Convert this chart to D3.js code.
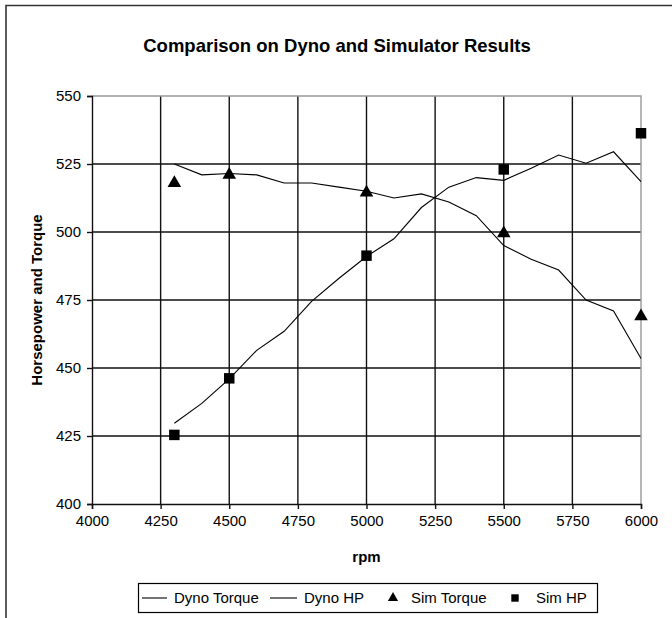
<!DOCTYPE html>
<html>
<head>
<meta charset="utf-8" />
<title>Comparison on Dyno and Simulator Results</title>
<style>
  body { margin: 0; background: #fff; }
  svg { display: block; font-family: "Liberation Sans", Arial, sans-serif; }
</style>
</head>
<body>
<div id="chart"></div>
<script src="https://cdnjs.cloudflare.com/ajax/libs/d3/7.8.5/d3.min.js"></script>
<script>
// dyno curves, every 100 rpm
var dynoRpm    = [4300, 4400, 4500, 4600, 4700, 4800, 4900, 5000, 5100, 5200, 5300, 5400, 5500, 5600, 5700, 5800, 5900, 6000];
var dynoTorque = [525, 521, 521.5, 521, 518, 518, 516.5, 515, 512.5, 514, 511, 506, 495, 490, 486, 475, 471, 453.5];
var dynoHP     = [429.7, 437, 446, 456.5, 463.5, 474.5, 483, 491, 497.5, 509, 516.5, 520, 519, 523.4, 528.3, 525.3, 529.5, 518.5];

// simulator points
var simRpm    = [4300, 4500, 5000, 5500, 6000];
var simTorque = [518, 521, 514.5, 499.5, 469];
var simHP     = [425.4, 446.2, 491.3, 523, 536.3];

var xTicks = [4000, 4250, 4500, 4750, 5000, 5250, 5500, 5750, 6000];
var yTicks = [400, 425, 450, 475, 500, 525, 550];

var legendNames = ["Dyno Torque", "Dyno HP", "Sim Torque", "Sim HP"];

(function () {
    var width = 672, height = 618;
    var pLeft = 92, pRight = 641, pTop = 96, pBottom = 504;

    var svg = d3.select("#chart").append("svg")
        .attr("width", width)
        .attr("height", height);

    // outer frame (only left and top edges visible)
    svg.append("path")
        .attr("d", "M6,618 V5.5 H672")
        .attr("fill", "none")
        .attr("stroke", "#333")
        .attr("stroke-width", 1.6);

    svg.append("text")
        .attr("x", 337)
        .attr("y", 52)
        .attr("text-anchor", "middle")
        .attr("font-size", 18.5)
        .attr("font-weight", "bold")
        .text("Comparison on Dyno and Simulator Results");

    var x = d3.scaleLinear().domain([4000, 6000]).range([pLeft, pRight]);
    var y = d3.scaleLinear().domain([400, 550]).range([pBottom, pTop]);

    // grid
    var g = svg.append("g");
    g.selectAll(".vg").data(xTicks.slice(1, -1)).enter().append("line")
        .attr("x1", function (d) { return x(d); })
        .attr("x2", function (d) { return x(d); })
        .attr("y1", pTop).attr("y2", pBottom)
        .attr("stroke", "#111").attr("stroke-width", 1.4);
    g.selectAll(".hg").data(yTicks.slice(1, -1)).enter().append("line")
        .attr("y1", function (d) { return y(d); })
        .attr("y2", function (d) { return y(d); })
        .attr("x1", pLeft).attr("x2", pRight)
        .attr("stroke", "#111").attr("stroke-width", 1.4);

    // plot border top/right in grey
    g.append("path")
        .attr("d", "M" + pLeft + "," + y(550) + " H" + x(6000) + " V" + pBottom)
        .attr("fill", "none")
        .attr("stroke", "#999")
        .attr("stroke-width", 1.4);

    // axes
    var xAxis = svg.append("g")
        .attr("transform", "translate(0," + pBottom + ")")
        .call(d3.axisBottom(x).tickValues(xTicks).tickSize(5).tickPadding(6).tickFormat(d3.format("d")));
    var yAxis = svg.append("g")
        .attr("transform", "translate(" + pLeft + ",0)")
        .call(d3.axisLeft(y).tickValues(yTicks).tickSize(5).tickPadding(6).tickFormat(d3.format("d")));

    [xAxis, yAxis].forEach(function (a) {
        a.select(".domain").attr("stroke", "#111").attr("stroke-width", 1.4);
        a.selectAll(".tick line").attr("stroke", "#111").attr("stroke-width", 1.4);
        a.selectAll("text").attr("font-size", 15).attr("fill", "#000")
            .attr("font-family", "'Liberation Sans', Arial, sans-serif");
    });

    svg.append("text")
        .attr("x", (pLeft + pRight) / 2)
        .attr("y", 562)
        .attr("text-anchor", "middle")
        .attr("font-size", 15)
        .attr("font-weight", "bold")
        .text("rpm");

    svg.append("text")
        .attr("transform", "translate(42," + ((pTop + pBottom) / 2) + ") rotate(-90)")
        .attr("text-anchor", "middle")
        .attr("font-size", 15)
        .attr("font-weight", "bold")
        .text("Horsepower and Torque");

    // lines
    var line = d3.line()
        .x(function (d) { return x(d[0]); })
        .y(function (d) { return y(d[1]); });

    [dynoTorque, dynoHP].forEach(function (vals) {
        svg.append("path")
            .datum(d3.zip(dynoRpm, vals))
            .attr("d", line)
            .attr("fill", "none")
            .attr("stroke", "#000")
            .attr("stroke-width", 1.1);
    });

    // markers
    var tri = d3.symbol().type(d3.symbolTriangle).size(80);
    var sq = d3.symbol().type(d3.symbolSquare).size(110);

    svg.selectAll(".st").data(d3.zip(simRpm, simTorque)).enter().append("path")
        .attr("d", tri)
        .attr("transform", function (d) { return "translate(" + x(d[0]) + "," + y(d[1]) + ")"; })
        .attr("fill", "#000");

    svg.selectAll(".sh").data(d3.zip(simRpm, simHP)).enter().append("path")
        .attr("d", sq)
        .attr("transform", function (d) { return "translate(" + x(d[0]) + "," + y(d[1]) + ")"; })
        .attr("fill", "#000");

    // legend
    var lg = svg.append("g").attr("font-size", 15);
    lg.append("rect")
        .attr("x", 138.5).attr("y", 583.5)
        .attr("width", 459).attr("height", 29)
        .attr("fill", "#fff").attr("stroke", "#000").attr("stroke-width", 1.2);

    var itemX = [[142, 167, 174], [270, 297, 304], [393, null, 411], [515, null, 536]];
    var ly = 598;
    legendNames.forEach(function (name, i) {
        var p = itemX[i];
        if (i < 2) {
            lg.append("line").attr("x1", p[0]).attr("x2", p[1])
                .attr("y1", ly).attr("y2", ly)
                .attr("stroke", "#000").attr("stroke-width", 1.1);
        } else {
            lg.append("path")
                .attr("d", d3.symbol().type(i === 2 ? d3.symbolTriangle : d3.symbolSquare).size(i === 2 ? 45 : 55))
                .attr("transform", "translate(" + p[0] + "," + ly + ")")
                .attr("fill", "#000");
        }
        lg.append("text").attr("x", p[2]).attr("y", ly + 5).text(name);
    });
})();
</script>
</body>
</html>
